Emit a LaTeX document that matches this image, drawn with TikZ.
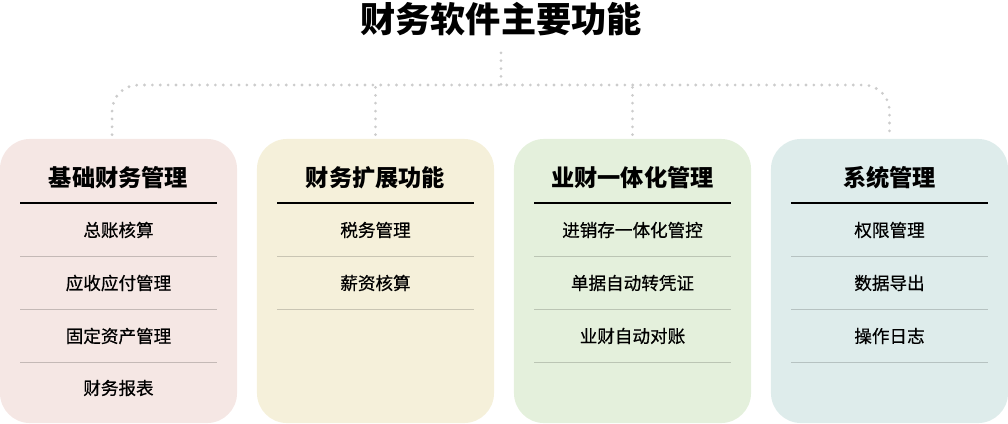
\documentclass[tikz,border=0pt]{standalone}
\usepackage{fontspec}
\setmainfont{Noto Sans CJK SC}
\newfontfamily\itemfont[FakeBold=0.6]{Noto Sans CJK SC}
\usepackage{xcolor}
\usetikzlibrary{positioning, calc}
\definecolor{cardA}{HTML}{F5E7E4}
\definecolor{cardB}{HTML}{F5F0DA}
\definecolor{cardC}{HTML}{E4F0DC}
\definecolor{cardD}{HTML}{DEECEB}
\definecolor{dotgray}{HTML}{CCCCCC}
\tikzset{
	card/.style={rectangle, rounded corners=0.75cm, draw=none,
		minimum width=5.925cm, minimum height=7.1cm, inner sep=0pt},
	cardtitle/.style={font=\fontsize{16.5}{18}\selectfont\bfseries, align=center},
	item/.style={font=\itemfont\fontsize{12.5}{14}\selectfont, align=center},
	toptitle/.style={font=\fontsize{25}{28}\selectfont\bfseries, align=center},
	headline/.style={black, line width=0.8pt},
	sepline/.style={line width=0.7pt},
	dotline/.style={dotgray, line width=2.2pt, line cap=round,
		dash pattern=on 0pt off 5.6pt, rounded corners=0.65cm},
}

\begin{document}
\begin{tikzpicture}[x=0.025cm, y=-0.025cm]
	\useasboundingbox (0,0) rectangle (1008,423);
	% title and cards
	\node[toptitle](title) at (501,19){财务软件主要功能};
	\node[card,fill=cardA](c1) at (118.5,281){};
	\node[card,fill=cardB](c2) at (375.5,281){};
	\node[card,fill=cardC](c3) at (632.5,281){};
	\node[card,fill=cardD](c4) at (889.5,281){};
	\coordinate(bus) at (501,85);
	% dotted connectors
	\draw[dotline]([yshift=-0.3cm]title.south)--(bus);
	\draw[dotline]([xshift=-0.16cm,yshift=0.1cm]c1.north)|-(bus)-|([yshift=0.1cm]c4.north);
	\draw[dotline]([yshift=0.1cm]c2.north)--(c2.north |- bus);
	\draw[dotline]([yshift=0.1cm]c3.north)--(c3.north |- bus);
	% card 1
	\node[cardtitle](h1) at (118.5,178){基础财务管理};
	\draw[headline](20,203)--(217,203);
	\node[item](a1) at (118.5,230){总账核算};
	\node[item](a2) at (118.5,283){应收应付管理};
	\node[item](a3) at (118.5,336){固定资产管理};
	\node[item](a4) at (118.5,388){财务报表};
	\draw[sepline,cardA!80!black](20,256.5)--(217,256.5) (20,309.5)--(217,309.5) (20,362.5)--(217,362.5);
	% card 2
	\node[cardtitle](h2) at (375.5,178){财务扩展功能};
	\draw[headline](277,203)--(474,203);
	\node[item](b1) at (375.5,230){税务管理};
	\node[item](b2) at (375.5,283){薪资核算};
	\draw[sepline,cardB!82!black](277,256.5)--(474,256.5) (277,309.5)--(474,309.5);
	% card 3
	\node[cardtitle](h3) at (632.5,178){业财一体化管理};
	\draw[headline](534,203)--(731,203);
	\node[item](d1) at (632.5,230){进销存一体化管控};
	\node[item](d2) at (632.5,283){单据自动转凭证};
	\node[item](d3) at (632.5,336){业财自动对账};
	\draw[sepline,cardC!82!black](534,256.5)--(731,256.5) (534,309.5)--(731,309.5) (534,362.5)--(731,362.5);
	% card 4
	\node[cardtitle](h4) at (889.5,178){系统管理};
	\draw[headline](791,203)--(988,203);
	\node[item](e1) at (889.5,230){权限管理};
	\node[item](e2) at (889.5,283){数据导出};
	\node[item](e3) at (889.5,336){操作日志};
	\draw[sepline,cardD!82!black](791,256.5)--(988,256.5) (791,309.5)--(988,309.5) (791,362.5)--(988,362.5);
\end{tikzpicture}
\end{document}
